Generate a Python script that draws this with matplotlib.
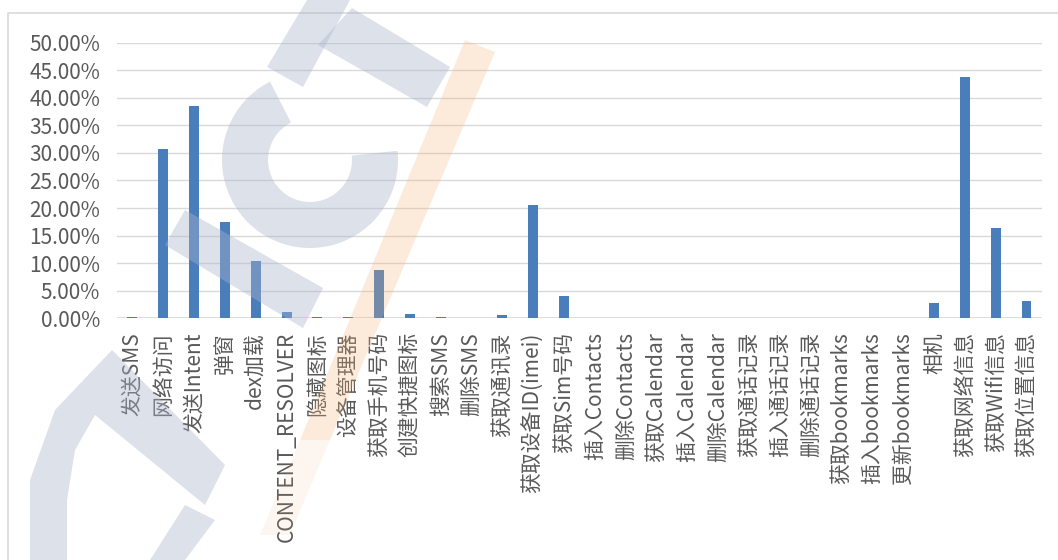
import matplotlib
matplotlib.use("Agg")
import matplotlib.pyplot as plt
from matplotlib.ticker import PercentFormatter, MultipleLocator
from matplotlib.lines import Line2D
from matplotlib.patches import Polygon, Wedge
from matplotlib.transforms import Affine2D

plt.rcParams['font.family'] = ['Noto Sans CJK SC', 'DejaVu Sans']

# categorias y porcentajes
categorias = [
    "发送SMS", "网络访问", "发送Intent", "弹窗", "dex加载", "CONTENT_RESOLVER",
    "隐藏图标", "设备管理器", "获取手机号码", "创建快捷图标", "搜索SMS", "删除SMS",
    "获取通讯录", "获取设备ID(imei)", "获取Sim号码", "插入Contacts", "删除Contacts",
    "获取Calendar", "插入Calendar", "删除Calendar", "获取通话记录", "插入通话记录",
    "删除通话记录", "获取bookmarks", "插入bookmarks", "更新bookmarks", "相机",
    "获取网络信息", "获取Wifi信息", "获取位置信息",
]
porcentajes = [
    0.2, 30.8, 38.5, 17.5, 10.4, 1.2,
    0.3, 0.25, 8.7, 0.8, 0.15, 0.0,
    0.55, 20.5, 4.0, 0.0, 0.0,
    0.0, 0.0, 0.0, 0.0, 0.0,
    0.0, 0.0, 0.0, 0.0, 2.8,
    43.8, 16.3, 3.2,
]

color_barra = "#4a7ebb"
color_texto = "#595959"
color_rejilla = "#d9d9d9"

fig = plt.figure(figsize=(10.58, 5.6), dpi=100)
ax = fig.add_axes([0.1106, 0.4316, 0.8742, 0.4922])

x = range(len(categorias))
ax.bar(x, porcentajes, width=0.32, color=color_barra, zorder=3)

ax.set_xlim(-0.5, len(categorias) - 0.5)
ax.set_ylim(0, 50)
ax.yaxis.set_major_locator(MultipleLocator(5))
ax.yaxis.set_major_formatter(PercentFormatter(100, decimals=2))
ax.grid(axis="y", color=color_rejilla, linewidth=1.0, zorder=0)
ax.set_axisbelow(True)

for lado in ["top", "right", "left", "bottom"]:
    ax.spines[lado].set_visible(False)
ax.axhline(0, color=color_rejilla, linewidth=1.2, zorder=2)

ax.set_xticks(list(x))
ax.set_xticklabels(categorias, rotation=90, ha="center", va="top")
ax.tick_params(axis="x", length=0, pad=10, labelsize=15, labelcolor=color_texto)
ax.tick_params(axis="y", length=0, pad=12, labelsize=15, labelcolor=color_texto)

# marco del area del grafico
fig.add_artist(Line2D([8 / 1058, 8 / 1058, 1.0], [0.0, 1 - 13 / 560, 1 - 13 / 560],
                      transform=fig.transFigure, color=color_rejilla, linewidth=1.2))

# marca de agua aproximada (coordenadas en pixeles de la imagen, y hacia abajo)
px = Affine2D().scale(1 / 1058, -1 / 560).translate(0, 1) + fig.transFigure
gris = dict(facecolor="#aab4cc", alpha=0.4, edgecolor="none", transform=px, zorder=10)

# la C de arriba (angulos invertidos por el eje y hacia abajo)
fig.add_artist(Wedge((310, 160), 88, -6, 243, width=46, **gris))
# la T
fig.add_artist(Polygon([(267, 67), (303, 87), (350, 0), (307, 0)], **gris))
fig.add_artist(Polygon([(352, 8), (450, 67), (427, 107), (318, 45)], **gris))
# barra diagonal
fig.add_artist(Polygon([(165, 245), (185, 210), (323, 288), (303, 328)], **gris))
# la C de abajo a la izquierda
fig.add_artist(Polygon([(112, 350), (225, 465), (205, 505), (95, 415), (75, 450),
                        (67, 500), (67, 560), (30, 560), (30, 480), (55, 410)], **gris))
fig.add_artist(Polygon([(185, 505), (215, 520), (185, 560), (150, 560)], **gris))

# franja naranja
fig.add_artist(Polygon([(465, 40), (495, 52), (330, 440), (300, 440)],
                       facecolor="#f5b070", alpha=0.25, edgecolor="none", transform=px, zorder=10))
fig.add_artist(Polygon([(300, 440), (330, 440), (290, 535), (260, 535)],
                       facecolor="#f5b070", alpha=0.1, edgecolor="none", transform=px, zorder=10))

fig.savefig("out.png", dpi=100)
